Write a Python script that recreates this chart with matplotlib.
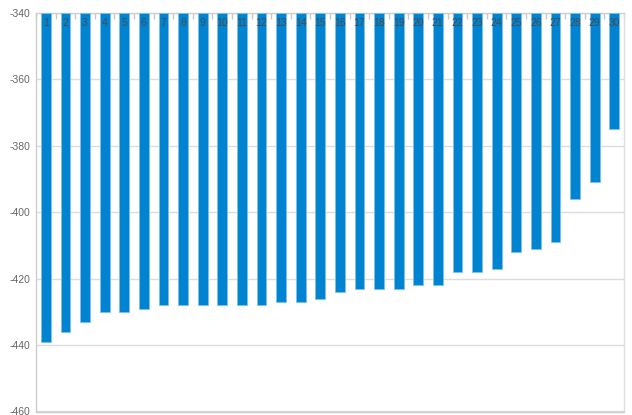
import matplotlib
matplotlib.use("Agg")
import matplotlib.pyplot as plt
import numpy as np

categories = list(range(1, 31))
values = [-439, -436, -433, -430, -430, -429, -428, -428, -428, -428,
          -428, -428, -427, -427, -426, -424, -423, -423, -423, -422,
          -422, -418, -418, -417, -412, -411, -409, -396, -391, -375]
y_ticks = [-460, -440, -420, -400, -380, -360, -340]
baseline = -340

plt.rcParams['font.family'] = ['Liberation Sans', 'DejaVu Sans']

fig = plt.figure(figsize=(6.32, 4.15), dpi=100)
ax = fig.add_axes([36/632, 3.5/415, 588/632, 398.5/415])

x = np.arange(1, len(categories) + 1)
heights = [v - baseline for v in values]
ax.bar(x, heights, bottom=baseline, width=0.5, color='#0084D2',
       edgecolor='#7fc0ea', linewidth=0.6, zorder=3)

for xi, c in zip(x, categories):
    ax.text(xi, baseline - 1.5, str(c), ha='center', va='top',
            fontsize=7.5, color='#4a4a4a', zorder=4)

ax.set_ylim(-460, -340)
ax.set_xlim(0.5, len(categories) + 0.5)
ax.set_yticks(y_ticks)
ax.set_yticklabels([str(t) for t in y_ticks], fontsize=7.5, color='#666666')
ax.tick_params(axis='y', length=0, pad=4)

ax.grid(axis='y', color='#dcdcdc', linewidth=1.0, zorder=0)
ax.xaxis.tick_top()
ax.set_xticks(np.arange(0.5, len(categories) + 1.0, 1.0))
ax.set_xticklabels([])
ax.tick_params(axis='x', direction='in', length=4, color='#c8c8c8', width=1)

for side in ['left', 'bottom', 'right', 'top']:
    ax.spines[side].set_color('#cccccc')
    ax.spines[side].set_linewidth(1.0)
ax.spines['right'].set_color('#e0e0e0')
ax.spines['top'].set_color('#d0d0d0')

fig.savefig('out.png', dpi=100)
